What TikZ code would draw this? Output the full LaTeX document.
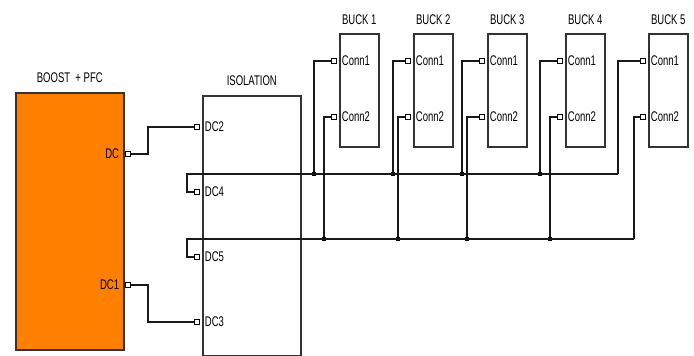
\documentclass[tikz,border=0pt]{standalone}
\usepackage{fontspec}
\newfontfamily\lblfont[FakeStretch=0.68]{Liberation Sans}
\usetikzlibrary{positioning}
\definecolor{boostorange}{RGB}{255,128,0}

\begin{document}
\begin{tikzpicture}[
          x=1pt, y=-1pt,
          every node/.style={font=\lblfont\fontsize{14}{16}\selectfont},
          blk/.style={draw=black!80, line width=1.6pt, fill=white, anchor=north west, inner sep=0pt},
          bck/.style={blk, minimum width=39pt, minimum height=113pt},
          port/.style={draw, fill=white, line width=1pt, minimum size=4.5pt, inner sep=0pt},
          dot/.style={fill=black, minimum size=4.5pt, inner sep=0pt},
          wire/.style={line width=1.3pt, black!90},
          ttl/.style={inner sep=0pt},
          plbl/.style={inner sep=0pt}
      ]
        \useasboundingbox (0,0) rectangle (694,356);

        % blocks
        \node[blk, fill=boostorange, minimum width=108pt, minimum height=257pt] (boost) at (15,92) {};
        \node[ttl, above=9pt of boost] {BOOST\ \ + PFC};
        \node[blk, minimum width=98pt, minimum height=260pt] (iso) at (202,95) {};
        \node[ttl, above=9pt of iso] {ISOLATION};

        \node[bck] (b1) at (339,33) {};
        \node[ttl, above=8pt of b1] {BUCK 1};
        \node[bck] (b2) at (413,33) {};
        \node[ttl, above=8pt of b2] {BUCK 2};
        \node[bck] (b3) at (487,33) {};
        \node[ttl, above=8pt of b3] {BUCK 3};
        \node[bck] (b4) at (565,33) {};
        \node[ttl, above=8pt of b4] {BUCK 4};
        \node[bck] (b5) at (648,33) {};
        \node[ttl, above=8pt of b5] {BUCK 5};

        % ports
        \node[port] (pDC) at (128,154) {};
        \node[plbl, left=6pt of pDC] {DC};
        \node[port] (pDC1) at (128,285) {};
        \node[plbl, left=6pt of pDC1] {DC1};
        \node[port] (pDC2) at (197,127) {};
        \node[plbl, right=5pt of pDC2] {DC2};
        \node[port] (pDC4) at (197,192) {};
        \node[plbl, right=5pt of pDC4] {DC4};
        \node[port] (pDC5) at (197,257) {};
        \node[plbl, right=5pt of pDC5] {DC5};
        \node[port] (pDC3) at (197,322) {};
        \node[plbl, right=5pt of pDC3] {DC3};

        \node[port] (b1c1) at (334,61) {};
        \node[plbl, right=5pt of b1c1] {Conn1};
        \node[port] (b1c2) at (334,117) {};
        \node[plbl, right=5pt of b1c2] {Conn2};
        \node[port] (b2c1) at (408,61) {};
        \node[plbl, right=5pt of b2c1] {Conn1};
        \node[port] (b2c2) at (408,117) {};
        \node[plbl, right=5pt of b2c2] {Conn2};
        \node[port] (b3c1) at (482,61) {};
        \node[plbl, right=5pt of b3c1] {Conn1};
        \node[port] (b3c2) at (482,117) {};
        \node[plbl, right=5pt of b3c2] {Conn2};
        \node[port] (b4c1) at (560,61) {};
        \node[plbl, right=5pt of b4c1] {Conn1};
        \node[port] (b4c2) at (560,117) {};
        \node[plbl, right=5pt of b4c2] {Conn2};
        \node[port] (b5c1) at (643,61) {};
        \node[plbl, right=5pt of b5c1] {Conn1};
        \node[port] (b5c2) at (643,117) {};
        \node[plbl, right=5pt of b5c2] {Conn2};

        % bus joints
        \coordinate (ul) at (187,174);
        \coordinate (ll) at (187,239);
        \coordinate (u5) at (618,174);
        \coordinate (l5) at (634,239);
        \node[dot] (u1) at (314,174) {};
        \node[dot] (u2) at (393,174) {};
        \node[dot] (u3) at (462,174) {};
        \node[dot] (u4) at (540,174) {};
        \node[dot] (l1) at (324,239) {};
        \node[dot] (l2) at (398,239) {};
        \node[dot] (l3) at (467,239) {};
        \node[dot] (l4) at (550,239) {};

        % wiring
        \draw[wire] (pDC) -- ++(20,0) |- (pDC2);
        \draw[wire] (pDC1) -- ++(20,0) |- (pDC3);
        \draw[wire] (pDC4) -| (ul) -- (u5);
        \draw[wire] (pDC5) -| (ll) -- (l5);
        \draw[wire] (b1c1) -| (u1);
        \draw[wire] (b1c2) -| (l1);
        \draw[wire] (b2c1) -| (u2);
        \draw[wire] (b2c2) -| (l2);
        \draw[wire] (b3c1) -| (u3);
        \draw[wire] (b3c2) -| (l3);
        \draw[wire] (b4c1) -| (u4);
        \draw[wire] (b4c2) -| (l4);
        \draw[wire] (b5c1) -| (u5);
        \draw[wire] (b5c2) -| (l5);
      \end{tikzpicture}
\end{document}
